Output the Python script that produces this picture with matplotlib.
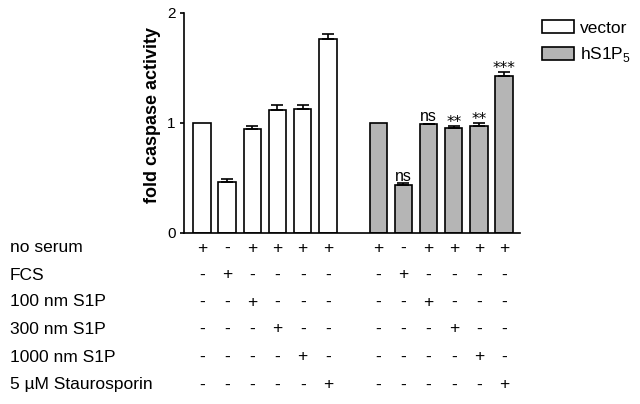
import matplotlib
matplotlib.use("Agg")
import matplotlib.pyplot as plt
from matplotlib.patches import Patch
from matplotlib.transforms import blended_transform_factory

plt.rcParams['font.family'] = ['Liberation Sans', 'DejaVu Sans']
plt.rcParams['mathtext.fontset'] = 'custom'
plt.rcParams['mathtext.rm'] = 'Liberation Sans'

# Data
vector_vals = [1.00, 0.46, 0.94, 1.12, 1.13, 1.76]
vector_err = [0.0, 0.03, 0.03, 0.04, 0.03, 0.05]
hs1p5_vals = [1.00, 0.43, 0.985, 0.955, 0.975, 1.43]
hs1p5_err = [0.0, 0.02, 0.008, 0.02, 0.025, 0.035]
hs1p5_sig = ["", "ns", "ns", "**", "**", "***"]
vector_pos = [0, 1, 2, 3, 4, 5]
hs1p5_pos = [7, 8, 9, 10, 11, 12]
row_labels = ["no serum", "FCS", "100 nm S1P", "300 nm S1P", "1000 nm S1P", "5 \u00b5M Staurosporin"]
conditions = [
    ["+", "-", "+", "+", "+", "+"],
    ["-", "+", "-", "-", "-", "-"],
    ["-", "-", "+", "-", "-", "-"],
    ["-", "-", "-", "+", "-", "-"],
    ["-", "-", "-", "-", "+", "-"],
    ["-", "-", "-", "-", "-", "+"],
]
legend_labels = ["vector", "hS1P$_\\mathregular{5}$"]
yticks = [0, 1, 2]

W, H = 640, 404
fig = plt.figure(figsize=(6.4, 4.04), dpi=100)
ax = fig.add_axes([184 / W, 1 - 232.7 / H, (520 - 184) / W, (232.7 - 13) / H])

bw = 0.69
ax.bar(vector_pos, vector_vals, width=bw, color='white', edgecolor='black', linewidth=1.2)
ax.bar(hs1p5_pos, hs1p5_vals, width=bw, color='#b5b5b5', edgecolor='black', linewidth=1.2)
for pos, vals, errs in [(vector_pos, vector_vals, vector_err), (hs1p5_pos, hs1p5_vals, hs1p5_err)]:
    for p, v, e in zip(pos, vals, errs):
        if e > 0:
            ax.errorbar(p, v, yerr=[[0], [e]], fmt='none', ecolor='black', elinewidth=1.2,
                        capsize=4, capthick=1.2)

for p, v, e, s in zip(hs1p5_pos, hs1p5_vals, hs1p5_err, hs1p5_sig):
    if s == "ns":
        ax.text(p, v + e + 0.022, s, ha='center', va='baseline', fontsize=11.5)
    elif s:
        ax.text(p, v + e - 0.015, s, ha='center', va='baseline', fontsize=11,
                family='DejaVu Sans')

ax.set_xlim(-0.71, 12.63)
ax.set_ylim(0, 2)
ax.set_yticks(yticks)
ax.set_yticklabels([str(t) for t in yticks], fontsize=11)
ax.tick_params(axis='y', length=3, width=1.2, pad=3)
ax.set_xticks([])
ax.spines['top'].set_visible(False)
ax.spines['right'].set_visible(False)
ax.spines['left'].set_linewidth(1.2)
ax.spines['bottom'].set_linewidth(1.2)
ax.set_ylabel("fold caspase activity", fontsize=13, fontweight='bold', labelpad=4.5, y=0.536)

# condition table
trans = blended_transform_factory(ax.transData, fig.transFigure)
row_y = [248, 275, 302, 329, 357, 385]
for ry, label, cond in zip(row_y, row_labels, conditions):
    yf = 1 - ry / H
    fig.text(10 / W, yf, label, ha='left', va='center', fontsize=12.5)
    for pos in (vector_pos, hs1p5_pos):
        for p, c in zip(pos, cond):
            ax.text(p, yf, c, ha='center', va='center', fontsize=12.5,
                    transform=trans, clip_on=False)

handles = [Patch(facecolor='white', edgecolor='black', linewidth=1.2),
           Patch(facecolor='#b5b5b5', edgecolor='black', linewidth=1.2)]
fig.legend(handles, legend_labels, loc='upper left', bbox_to_anchor=(537 / W, 1 - 15 / H),
           frameon=False, fontsize=12.5, handlelength=1.85, handleheight=0.8,
           handletextpad=0.3, labelspacing=0.55, borderaxespad=0, borderpad=0.3)

fig.savefig("out.png", dpi=100)
